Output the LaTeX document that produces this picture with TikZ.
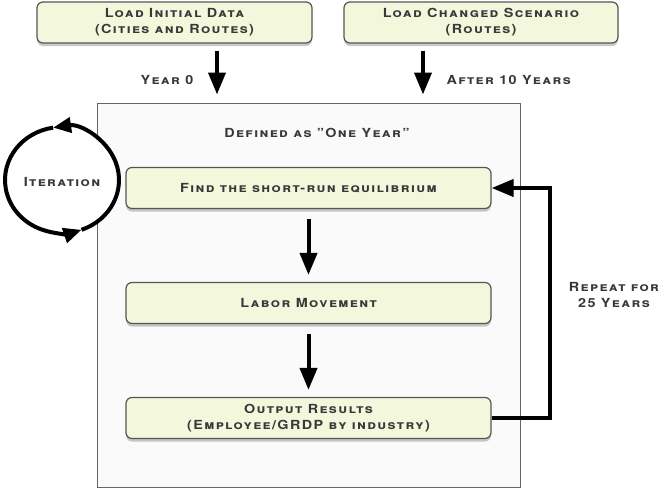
\documentclass[tikz,border=0pt]{standalone}
\usepackage{fontspec}
\setmainfont{TeX Gyre Heros}[FakeStretch=1.15,LetterSpace=11]
\usetikzlibrary{arrows.meta,shadows}
\definecolor{boxfill}{HTML}{F3F8DD}
\definecolor{boxline}{HTML}{555555}
\definecolor{txt}{HTML}{383838}
\begin{document}
\begin{tikzpicture}[x=1pt,y=1pt,
  stepbox/.style={draw=boxline,line width=1.2pt,fill=boxfill,rounded corners=6pt,
    minimum height=41pt,align=center,text=txt,
    font=\bfseries\scshape\fontsize{12.5}{16}\selectfont,
    drop shadow={shadow xshift=0pt,shadow yshift=-3pt,opacity=0.3,fill=black!70}},
  lbl/.style={align=center,text=txt,font=\bfseries\scshape\fontsize{12.5}{16}\selectfont},
  arr/.style={line width=4pt,-{Triangle[length=22pt,width=17pt]}},
]
\useasboundingbox (0,0) rectangle (661,-488);
\pgfmathsetmacro{\xa}{217}
\pgfmathsetmacro{\xb}{423}
\pgfmathsetmacro{\rx}{57}
\pgfmathsetmacro{\ry}{53}

% one year frame
\node[draw=black!60,line width=1pt,fill=black!2,minimum width=423pt,minimum height=384pt,
  inner sep=0pt] (year) at (308.5,-295) {};
\node[lbl] (def) at (317,-133) {Defined as "One Year"};

% input boxes
\node[stepbox,minimum width=275pt] (init) at (174.5,-22.5) {Load Initial Data\\(Cities and Routes)};
\node[stepbox,minimum width=274pt] (change) at (481,-22.5) {Load Changed Scenario\\(Routes)};
\draw[arr,shorten <=7pt,shorten >=8pt] (init.south -| \xa,0) -- (year.north -| \xa,0);
\draw[arr,shorten <=7pt,shorten >=8pt] (change.south -| \xb,0) -- (year.north -| \xb,0);
\node[lbl,anchor=east] (y0) at (197,-80) {Year 0};
\node[lbl,anchor=west] (y10) at (443,-80) {After 10 Years};

% steps of one year
\node[stepbox,minimum width=365pt] (find) at (308.5,-188) {Find the short-run equilibrium};
\node[stepbox,minimum width=365pt] (labor) at (308.5,-303) {Labor Movement};
\node[stepbox,minimum width=365pt] (output) at (308.5,-418) {Output Results\\(Employee/GRDP by industry)};
\draw[arr,shorten <=10pt,shorten >=7pt] (find) -- (labor);
\draw[arr,shorten <=10pt,shorten >=7pt] (labor) -- (output);

% loop back
\coordinate (back) at (550,-300);
\draw[arr] (output.east) -| (back) |- (find.east);
\node[lbl] (rep) at (614,-295) {Repeat for\\25 Years};

% iteration circle
\fill[white] (62,-180) ellipse [x radius=\rx, y radius=\ry];
\draw[line width=4pt,-{Triangle[length=18pt,width=15pt]}] (62,-180) ++(-70:{\rx} and {\ry})
  arc[start angle=-70,end angle=99,x radius=\rx,y radius=\ry];
\draw[line width=4pt,-{Triangle[length=18pt,width=15pt]}] (62,-180) ++(99:{\rx} and {\ry})
  arc[start angle=99,end angle=290,x radius=\rx,y radius=\ry];
\node[lbl] (iter) at (62,-182) {Iteration};
\end{tikzpicture}
\end{document}
